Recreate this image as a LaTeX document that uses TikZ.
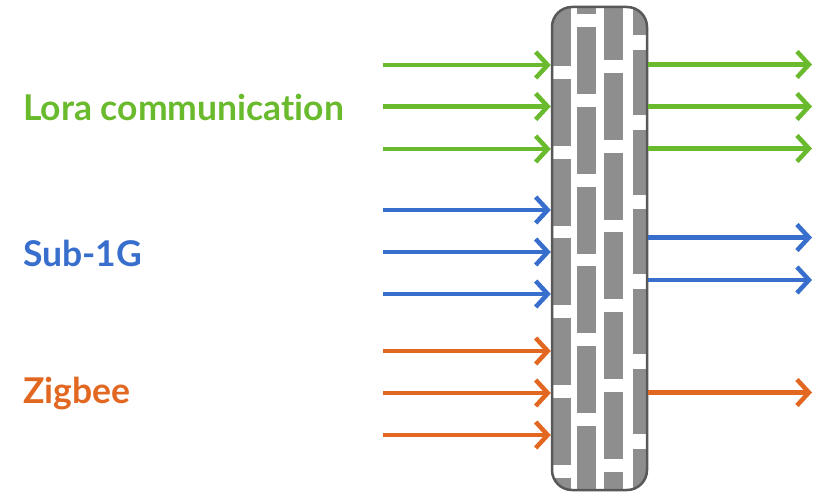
\documentclass[tikz,border=0pt]{standalone}
\usepackage{fontspec}
\setmainfont{Lato}[Ligatures=NoCommon]
\usetikzlibrary{arrows.meta}
\definecolor{cgreen}{RGB}{106,186,45}
\definecolor{cblue}{RGB}{56,110,204}
\definecolor{corange}{RGB}{226,104,34}
\definecolor{brick}{RGB}{142,142,142}
\definecolor{wallline}{RGB}{88,88,88}
\tikzset{
  sig/.style={line width=4.5pt, -{Straight Barb[length=12pt,width=26pt,line width=4.5pt]}},
  lbl/.style={anchor=base west, inner sep=0pt, font=\bfseries\fontsize{35.5}{40}\selectfont},
  wallbox/.style={draw=wallline, line width=2.5pt, rounded corners=20pt, minimum width=95pt, minimum height=483pt, inner sep=0pt},
}
\begin{document}
\begin{tikzpicture}[x=1pt,y=-1pt]
\useasboundingbox (0,0) rectangle (814,492);
% bricks
\begin{scope}
\clip[rounded corners=20pt] (552,7) rectangle (647,490);
\foreach \k in {-1,...,7} {
  \fill[brick] (552,{-1+79.8*\k}) rectangle (571,{66+79.8*\k});
  \fill[brick] (577,{27+79.8*\k}) rectangle (596,{94+79.8*\k});
  \fill[brick] (604,{-7+79.8*\k}) rectangle (623,{60+79.8*\k});
  \fill[brick] (633,{-30+79.8*\k}) rectangle (652,{35+79.8*\k});
}
\end{scope}
\node[wallbox] (wall) at (599.5,248.5) {};
% labels
\node[lbl, text=cgreen] (lora) at (23,121) {Lora communication};
\node[lbl, text=cblue] (sub) at (23,266) {Sub-1G};
\node[lbl, text=corange] (zig) at (23,403) {Zigbee};
% left inputs
\foreach \y/\c/\n in {65/cgreen/g1,106.5/cgreen/g2,149/cgreen/g3,210/cblue/b1,252/cblue/b2,294/cblue/b3,351/corange/o1,393/corange/o2,435/corange/o3} {
  \coordinate (in\n) at (383,\y);
  \draw[sig, draw=\c] (in\n) -- (in\n -| wall.west);
}
% right outputs
\foreach \y/\c/\n in {64.5/cgreen/g1,106.5/cgreen/g2,148.5/cgreen/g3,237.5/cblue/b1,280/cblue/b2,392.5/corange/o1} {
  \coordinate (out\n) at (812,\y);
  \draw[sig, draw=\c] (out\n -| wall.east) -- (out\n);
}
\end{tikzpicture}
\end{document}
